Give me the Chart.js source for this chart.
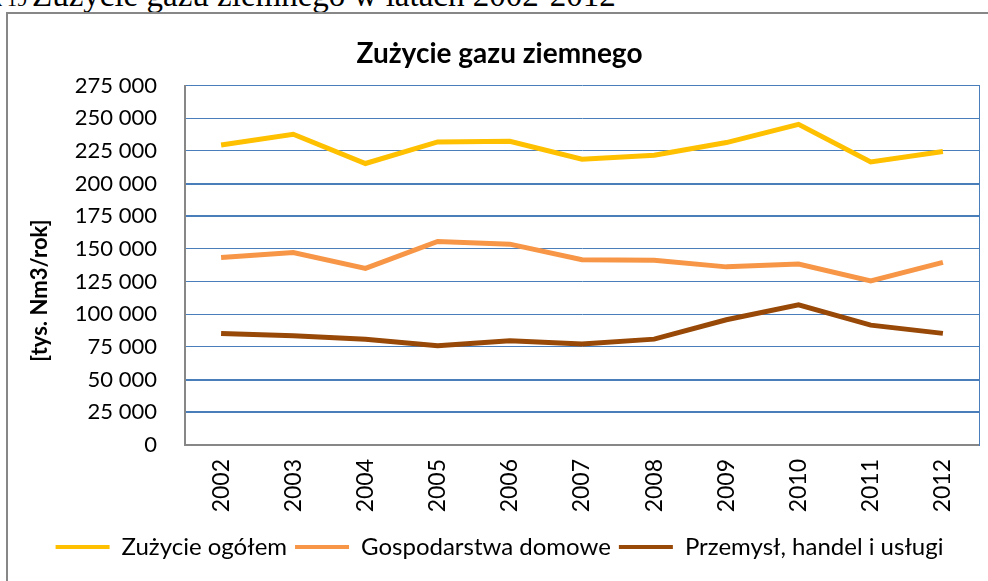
<!DOCTYPE html>
<html><head><meta charset="utf-8">
<script src="https://cdn.jsdelivr.net/npm/chart.js@4/dist/chart.umd.min.js"></script>
<style>
html,body{margin:0;padding:0;width:988px;height:581px;overflow:hidden;background:#fff;}
#heading{position:absolute;left:-8px;top:-21px;font:33px/33px "Liberation Serif",serif;white-space:nowrap;color:#000;}
#heading .pre{font-size:20px;}
#frame{position:absolute;left:6px;top:12px;width:1100px;height:700px;border:2px solid #878787;box-sizing:border-box;}
#wrap{position:absolute;left:0;top:0;width:988px;height:581px;}
</style></head>
<body>
<div id="heading"><span class="pre">k 19 </span>Zużycie gazu ziemnego w latach 2002-2012</div>
<div id="frame"></div>
<div id="wrap"><canvas id="c"></canvas></div>
<script>
const years = ['2002','2003','2004','2005','2006','2007','2008','2009','2010','2011','2012'];
const totalUse   = [229600, 237800, 215400, 231900, 232400, 218700, 221700, 231400, 245400, 216600, 224500];
const households = [143500, 147300, 135100, 155700, 153700, 141700, 141400, 136300, 138400, 125600, 139700];
const industry   = [ 85400,  83600,  81000,  75900,  79700,  77200,  81000,  95800, 107300,  91700,  85400];
const seriesNames = ['Zużycie ogółem', 'Gospodarstwa domowe', 'Przemysł, handel i usługi'];
const seriesColors = ['#FFC000', '#F79646', '#984807'];
const chartTitle = 'Zużycie gazu ziemnego';
const yAxisTitle = '[tys. Nm3/rok]';
const yMin = 0, yMax = 275000, yStep = 25000;

const fmt = v => String(v).replace(/\B(?=(\d{3})+(?!\d))/g, ' ');
const FONT = 'Lato';

const yTitlePlugin = {
  id: 'yTitle',
  afterDraw(chart) {
    const {ctx, chartArea} = chart;
    ctx.save();
    ctx.translate(chartArea.left - 145, chartArea.top + (chartArea.bottom - chartArea.top) * 0.57);
    ctx.rotate(-Math.PI / 2);
    ctx.font = 'bold 22px ' + FONT;
    ctx.fillStyle = '#000';
    ctx.textAlign = 'center';
    ctx.textBaseline = 'middle';
    ctx.fillText(yAxisTitle, 0, 0);
    ctx.restore();
  }
};

const datasets = [totalUse, households, industry].map((d, i) => ({
  label: seriesNames[i],
  data: d,
  borderColor: seriesColors[i],
  backgroundColor: seriesColors[i],
  borderWidth: 5,
  pointRadius: 0,
  tension: 0,
  yAxisID: 'y'
}));

new Chart(document.getElementById('c'), {
  type: 'line',
  data: { labels: years, datasets },
  plugins: [yTitlePlugin],
  options: {
    responsive: true,
    maintainAspectRatio: false,
    animation: false,
    devicePixelRatio: 1,
    layout: { padding: { left: 20, right: 9, top: 37, bottom: 12 } },
    plugins: {
      title: {
        display: true, text: chartTitle, color: '#000',
        font: { family: FONT, size: 28, weight: 'bold' },
        padding: { top: 0, bottom: 15 }
      },
      legend: {
        position: 'bottom',
        labels: {
          color: '#000',
          font: { family: FONT, size: 24 },
          boxWidth: 54, boxHeight: 4, padding: 8,
          generateLabels(chart) {
            return Chart.defaults.plugins.legend.labels.generateLabels(chart).map(l => ({...l, lineWidth: 0}));
          }
        }
      },
      tooltip: { enabled: false }
    },
    scales: {
      x: {
        offset: true,
        grid: { display: false, drawTicks: false },
        border: { color: '#878787', width: 2 },
        ticks: { color: '#000', font: { family: FONT, size: 23 }, minRotation: 90, maxRotation: 90, padding: 14 },
        afterFit(s) { s.height = 82; }
      },
      y: {
        min: yMin, max: yMax,
        grid: {
          color: '#4a7ebb', drawTicks: false,
          lineWidth: ctx => ([200000, 175000, 50000, 25000].includes(ctx.tick && ctx.tick.value) ? 2 : 1)
        },
        border: { color: '#878787', width: 2 },
        ticks: { stepSize: yStep, color: '#000', font: { family: FONT, size: 22 }, padding: 28, callback: v => fmt(v) },
        afterFit(s) { s.width = 165; }
      },
      y2: {
        position: 'right', min: yMin, max: yMax,
        grid: { display: false, drawTicks: false },
        border: { color: '#4a7ebb', width: 1 },
        ticks: { display: false },
        afterFit(s) { s.width = 0; }
      }
    }
  }
});
</script>
</body></html>
